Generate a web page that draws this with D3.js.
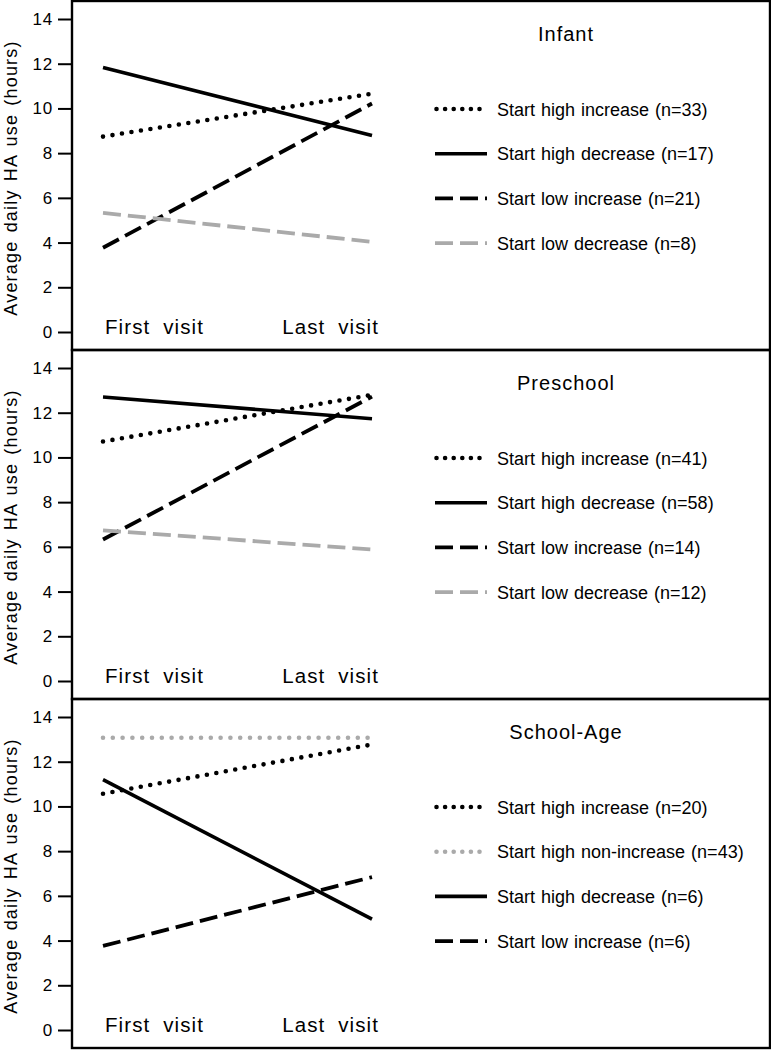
<!DOCTYPE html>
<html>
<head>
<meta charset="utf-8">
<script src="https://cdn.jsdelivr.net/npm/d3@7"></script>
<style>
  html, body { margin: 0; padding: 0; background: #fff; }
  svg { display: block; }
  text { font-family: "Liberation Sans", Arial, sans-serif; fill: #000; }
</style>
</head>
<body>
<svg id="chart" width="771" height="1050"></svg>
<script>
// ---------------- data ----------------
const panelTitles = ["Infant", "Preschool", "School-Age"];
const visits = ["First visit", "Last visit"];
const yTicks = [0, 2, 4, 6, 8, 10, 12, 14];
const yLabel = "Average daily HA use (hours)";

const infantSeries = ["Start high increase (n=33)", "Start high decrease (n=17)", "Start low increase (n=21)", "Start low decrease (n=8)"];
const infantStyles = ["dotBlack", "solid", "dashBlack", "dashGray"];
const infantFirst = [8.74, 11.83, 3.77, 5.33];
const infantLast = [10.66, 8.79, 10.22, 4.03];

const preschoolSeries = ["Start high increase (n=41)", "Start high decrease (n=58)", "Start low increase (n=14)", "Start low decrease (n=12)"];
const preschoolStyles = ["dotBlack", "solid", "dashBlack", "dashGray"];
const preschoolFirst = [10.71, 12.70, 6.33, 6.74];
const preschoolLast = [12.80, 11.73, 12.72, 5.88];

const schoolSeries = ["Start high increase (n=20)", "Start high non-increase (n=43)", "Start high decrease (n=6)", "Start low increase (n=6)"];
const schoolStyles = ["dotBlack", "dotGray", "solid", "dashBlack"];
const schoolFirst = [10.57, 13.07, 11.20, 3.76];
const schoolLast = [12.77, 13.07, 4.96, 6.84];

// ---------------- styles ----------------
const styleDefs = {
  solid:     { color: "#000", width: 3.6, dash: null, cap: "butt" },
  dotBlack:  { color: "#000", width: 4.6, dash: "0,9.6", cap: "round", legendDash: "0,8.6" },
  dotGray:   { color: "#aaaaaa", width: 4.6, dash: "0,9.8", cap: "round", legendDash: "0,8.6" },
  dashBlack: { color: "#000", width: 3.8, dash: "18,7", cap: "butt" },
  dashGray:  { color: "#aaaaaa", width: 3.8, dash: "18,7", cap: "butt" }
};

const panels = [
  { title: panelTitles[0], series: infantSeries, styles: infantStyles, first: infantFirst, last: infantLast },
  { title: panelTitles[1], series: preschoolSeries, styles: preschoolStyles, first: preschoolFirst, last: preschoolLast },
  { title: panelTitles[2], series: schoolSeries, styles: schoolStyles, first: schoolFirst, last: schoolLast }
];

// ---------------- layout ----------------
const svg = d3.select("#chart");
const frameLeft = 72, frameRight = 770;
const panelTops = [1, 350, 699];
const panelH = 349;

const x = d3.scalePoint().domain(visits).range([103, 372]);

panels.forEach((p, pi) => {
  const top = panelTops[pi];
  const g = svg.append("g");
  const y = d3.scaleLinear().domain([0, 14]).range([top + 331, top + 18]);

  // y axis ticks + labels
  const axis = d3.axisLeft(y).tickValues(yTicks).tickSize(14).tickPadding(5).tickFormat(d3.format("d"));
  const ax = g.append("g").attr("transform", `translate(${frameLeft},0)`).call(axis);
  ax.select(".domain").remove();
  ax.selectAll(".tick line").attr("stroke", "#000").attr("stroke-width", 2);
  ax.selectAll(".tick text")
    .attr("font-family", "Liberation Sans, Arial, sans-serif")
    .attr("font-size", 17).attr("fill", "#000")
    .attr("letter-spacing", 0.8);

  // y label
  g.append("text")
    .attr("transform", `translate(17,${top + 177}) rotate(-90)`)
    .attr("text-anchor", "middle")
    .attr("font-size", 18)
    .attr("letter-spacing", 1.2)
    .attr("word-spacing", 2)
    .text(yLabel);

  // x labels
  g.append("text")
    .attr("x", x(visits[0]) + 2).attr("y", y(0) + 2)
    .attr("font-size", 20.5).attr("letter-spacing", 1.1).attr("word-spacing", 6)
    .text(visits[0]);
  g.append("text")
    .attr("x", x(visits[1]) + 7).attr("y", y(0) + 2)
    .attr("text-anchor", "end")
    .attr("font-size", 20.5).attr("letter-spacing", 1.1).attr("word-spacing", 6)
    .text(visits[1]);

  // lines
  const line = d3.line().x(d => x(d.v)).y(d => y(d.val));
  p.series.forEach((name, i) => {
    const st = styleDefs[p.styles[i]];
    const pts = [{ v: visits[0], val: p.first[i] }, { v: visits[1], val: p.last[i] }];
    g.append("path")
      .attr("d", line(pts))
      .attr("fill", "none")
      .attr("stroke", st.color)
      .attr("stroke-width", st.width)
      .attr("stroke-linecap", st.cap)
      .attr("stroke-dasharray", st.dash);
  });

  // title
  g.append("text")
    .attr("x", 566).attr("y", top + 40)
    .attr("text-anchor", "middle")
    .attr("font-size", 20).attr("letter-spacing", 1)
    .text(p.title);

  // legend
  const lx0 = 435, lx1 = 487, ltx = 497;
  p.series.forEach((name, i) => {
    const st = styleDefs[p.styles[i]];
    const ly = top + 108 + i * 44.7;
    g.append("line")
      .attr("x1", lx0 + (st.cap === "round" ? 1.5 : 0)).attr("x2", lx1)
      .attr("y1", ly).attr("y2", ly)
      .attr("stroke", st.color)
      .attr("stroke-width", st.width)
      .attr("stroke-linecap", st.cap)
      .attr("stroke-dasharray", st.legendDash || st.dash);
    g.append("text")
      .attr("x", ltx).attr("y", ly + 6.6)
      .attr("font-size", 18)
      .attr("word-spacing", 1)
      .text(name);
  });

  // frame
  g.append("rect")
    .attr("x", frameLeft).attr("y", top)
    .attr("width", frameRight - frameLeft).attr("height", panelH)
    .attr("fill", "none").attr("stroke", "#000").attr("stroke-width", 2.4);
});
</script>
</body>
</html>
